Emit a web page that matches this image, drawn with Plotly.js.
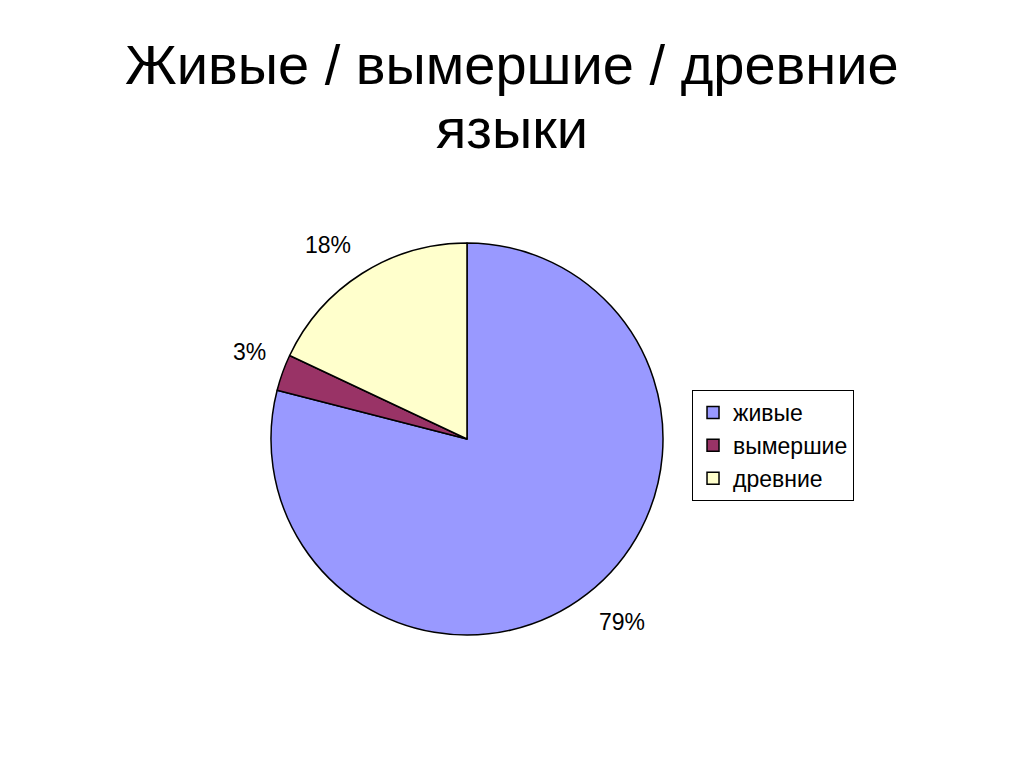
<!DOCTYPE html>
<html>
<head>
<meta charset="utf-8">
<script src="https://cdn.plot.ly/plotly-3.0.1.min.js"></script>
<style>html,body{margin:0;padding:0;background:#fff;}#chart{width:1024px;height:767px;}</style>
</head>
<body>
<div id="chart"></div>
<script>
const categories = ["живые", "вымершие", "древние"];
const values = [79, 3, 18];
const sliceColors = ["#9999FF", "#993366", "#FFFFCC"];
const titleLines = ["Живые / вымершие / древние", "языки"];

const FONT = "Liberation Sans, Arial, sans-serif";
const dom = { x: [0.2646, 0.6475], y: [0.1721, 0.6832] };
const W = 1024, H = 767;

// percent labels placed just outside the pie, from each slice's mid angle
const total = values.reduce((a, b) => a + b, 0);
const cx = (dom.x[0] + dom.x[1]) / 2 * W;
const cyTop = (1 - (dom.y[0] + dom.y[1]) / 2) * H;
const R = Math.min((dom.x[1] - dom.x[0]) * W, (dom.y[1] - dom.y[0]) * H) / 2;
let cum = 0;
const labelAnns = values.map((v) => {
  const mid = (cum + v / 2) / total * 2 * Math.PI;
  cum += v;
  const s = Math.sin(mid), c = Math.cos(mid);
  const r = R + 16;
  const px = cx + s * r, py = cyTop - c * r;
  return {
    xref: "paper", yref: "paper",
    x: px / W, y: 1 - py / H,
    xanchor: s >= 0 ? "left" : "right",
    yanchor: c >= 0 ? "bottom" : "top",
    text: Math.round(v / total * 100) + "%",
    showarrow: false,
    font: { family: FONT, size: 23, color: "#000" }
  };
});

const titleAnns = [
  { text: titleLines[0], y: 1 - 64 / H },
  { text: titleLines[1], y: 1 - 128 / H }
].map(t => ({
  xref: "paper", yref: "paper", x: 0.5, xanchor: "center", yanchor: "middle",
  y: t.y, text: t.text, showarrow: false,
  font: { family: FONT, size: 56, color: "#000" }
}));

const trace = {
  type: "pie",
  labels: categories,
  values: values,
  sort: false,
  direction: "clockwise",
  rotation: 0,
  marker: { colors: sliceColors, line: { color: "#000", width: 1.5 } },
  textinfo: "none",
  domain: dom,
  hoverinfo: "none",
  automargin: false
};

const layout = {
  width: W, height: H,
  margin: { l: 0, r: 0, t: 0, b: 0 },
  paper_bgcolor: "#fff",
  font: { family: FONT, color: "#000" },
  annotations: titleAnns.concat(labelAnns),
  showlegend: true,
  legend: {
    x: 0.6758, xanchor: "left",
    y: 0.4915, yanchor: "top",
    bordercolor: "#000", borderwidth: 1,
    bgcolor: "#fff",
    font: { family: FONT, size: 23, color: "#000" },
    traceorder: "normal"
  }
};

Plotly.newPlot("chart", [trace], layout, { staticPlot: true });
</script>
</body>
</html>
